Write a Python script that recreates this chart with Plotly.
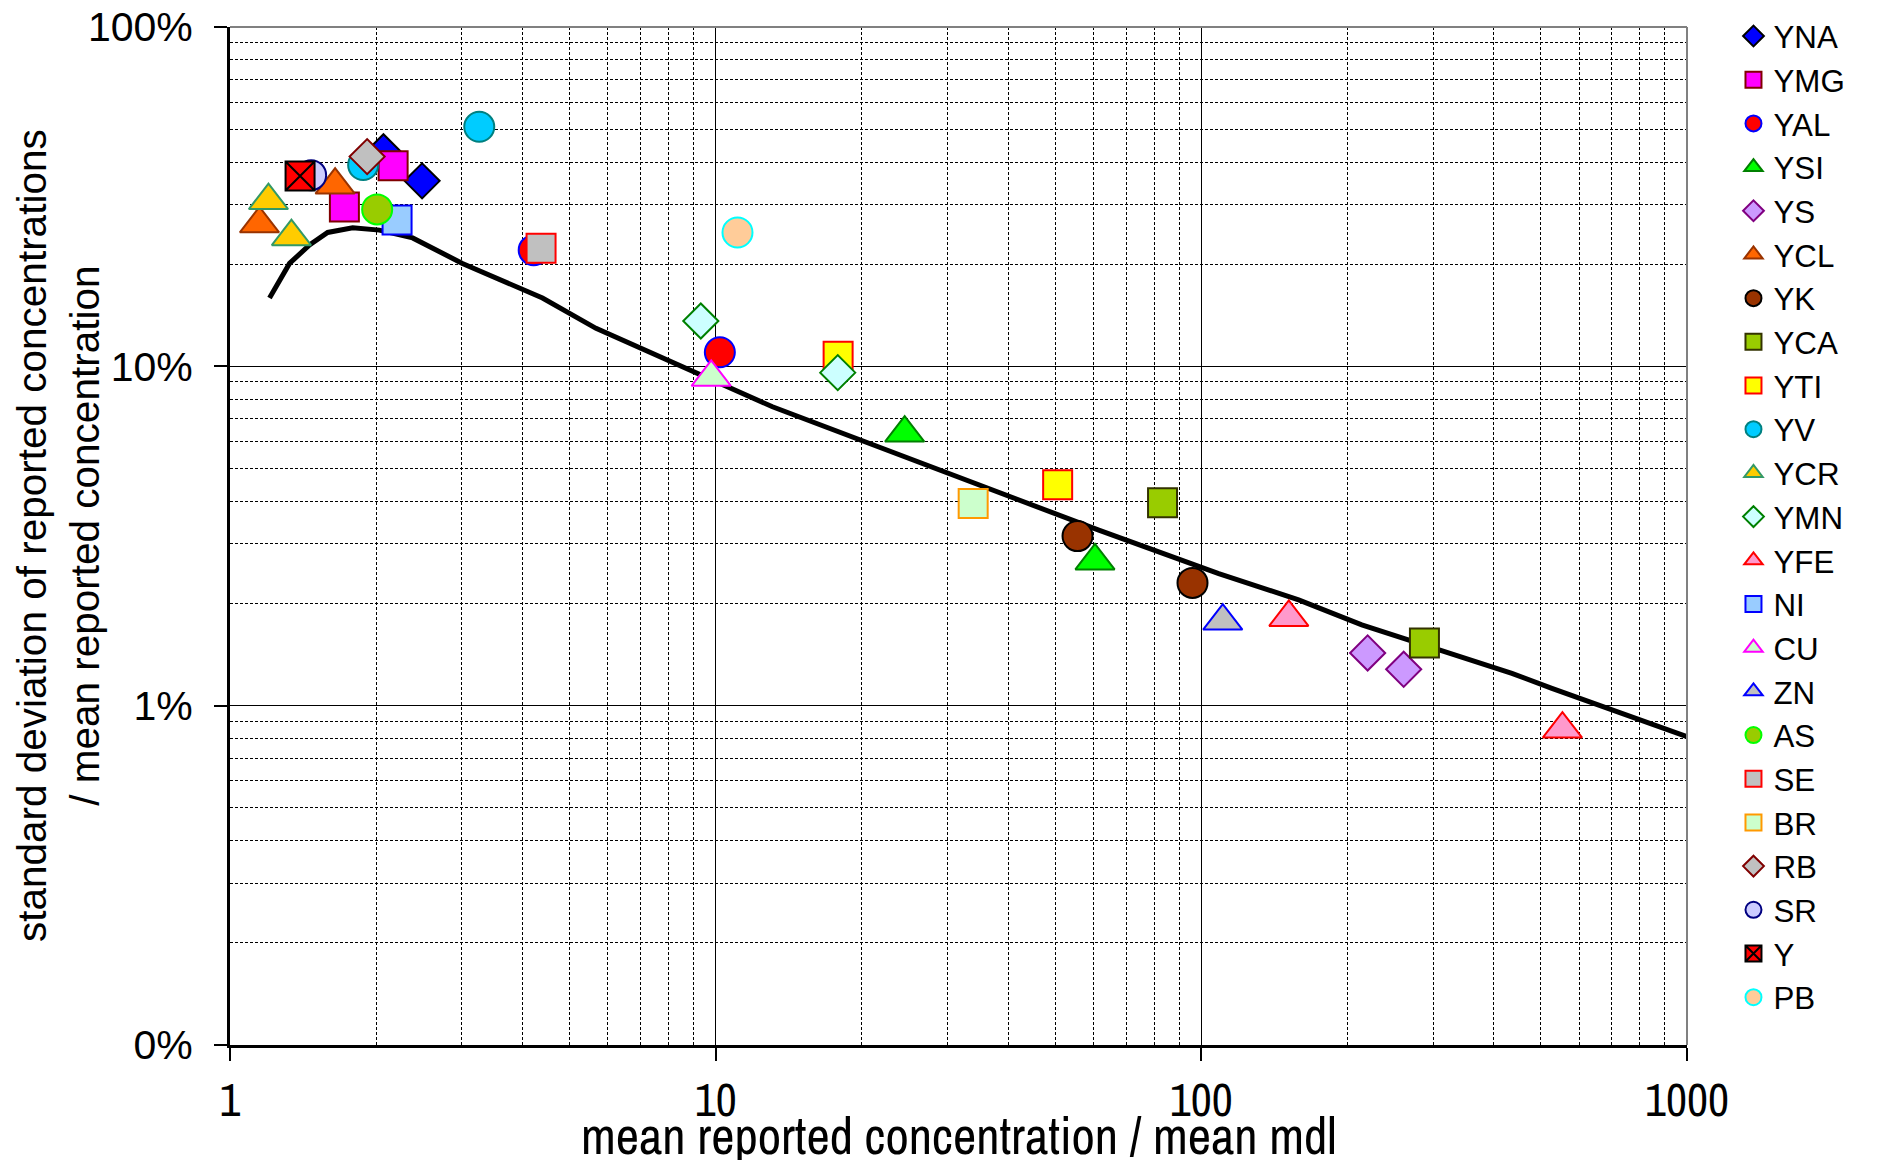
import plotly.graph_objects as go

# ---------------- data ----------------
curve_x = [1.206, 1.326, 1.458, 1.589, 1.789, 2.03, 2.377, 3.01, 4.40, 5.67, 13.09, 32.2, 61.5, 108.6, 158.6, 214, 436, 527, 1000]
curve_y = [15.9, 20.1, 22.8, 24.8, 25.6, 25.2, 23.9, 20.1, 15.9, 12.94, 7.60, 4.68, 3.29, 2.45, 2.05, 1.73, 1.245, 1.124, 0.81]

series_names = ["YNA", "YMG", "YAL", "YSI", "YS", "YCL", "YK", "YCA", "YTI", "YV", "YCR", "YMN",
                "YFE", "NI", "CU", "ZN", "AS", "SE", "BR", "RB", "SR", "Y", "PB"]

series_x = {
    "YNA": [2.07, 2.486], "YMG": [2.167, 1.72], "YAL": [4.22, 10.2], "YSI": [24.5, 60.4],
    "YS": [220, 261], "YCL": [1.646, 1.15], "YK": [55.6, 95.9], "YCA": [83.2, 288],
    "YTI": [17.87, 50.6], "YV": [1.88, 3.26], "YCR": [1.20, 1.338], "YMN": [9.32, 17.84],
    "YFE": [151.4, 554], "NI": [2.208], "CU": [9.79], "ZN": [110.7], "AS": [2.009],
    "SE": [4.37], "BR": [33.9], "RB": [1.916], "SR": [1.469], "Y": [1.394], "PB": [11.09],
}
series_y = {
    "YNA": [42.9, 35.2], "YMG": [39.0, 29.5], "YAL": [22.0, 11.0], "YSI": [6.36, 2.67],
    "YS": [1.43, 1.28], "YCL": [34.2, 26.3], "YK": [3.16, 2.30], "YCA": [3.96, 1.53],
    "YTI": [10.7, 4.48], "YV": [39.2, 50.8], "YCR": [30.8, 24.1], "YMN": [13.6, 9.58],
    "YFE": [1.82, 0.853], "NI": [27.0], "CU": [9.28], "ZN": [1.776], "AS": [29.0],
    "SE": [22.3], "BR": [3.94], "RB": [41.5], "SR": [36.6], "Y": [36.4], "PB": [24.8],
}

x_tickvals = [1, 10, 100, 1000]
x_ticktext = ["1", "10", "100", "1000"]
y_tickvals = [0.1, 1, 10, 100]
y_ticktext = ["0%", "1%", "10%", "100%"]

x_title = "mean reported concentration / mean mdl"
y_title = "standard deviation of reported concentrations<br>/ mean reported concentration"

# ---------------- styles ----------------
styles = {
    "YNA": ("diamond", "#0000FF", "#000000"),
    "YMG": ("square", "#FF00FF", "#800000"),
    "YAL": ("circle", "#FF0000", "#0000FF"),
    "YSI": ("triangle-up", "#00FF00", "#008000"),
    "YS": ("diamond", "#CC99FF", "#800080"),
    "YCL": ("triangle-up", "#FF6600", "#993300"),
    "YK": ("circle", "#993300", "#000000"),
    "YCA": ("square", "#99CC00", "#333300"),
    "YTI": ("square", "#FFFF00", "#FF0000"),
    "YV": ("circle", "#00CCFF", "#008080"),
    "YCR": ("triangle-up", "#FFCC00", "#339966"),
    "YMN": ("diamond", "#CCFFFF", "#008000"),
    "YFE": ("triangle-up", "#FF99CC", "#FF0000"),
    "NI": ("square", "#99CCFF", "#0000FF"),
    "CU": ("triangle-up", "#CCFFCC", "#FF00FF"),
    "ZN": ("triangle-up", "#C0C0C0", "#0000FF"),
    "AS": ("circle", "#99CC00", "#00FF00"),
    "SE": ("square", "#C0C0C0", "#FF0000"),
    "BR": ("square", "#CCFFCC", "#FF9900"),
    "RB": ("diamond", "#C0C0C0", "#800000"),
    "SR": ("circle", "#CCCCFF", "#000080"),
    "Y": ("square-x", "#FF0000", "#000000"),
    "PB": ("circle", "#FFCC99", "#00FFFF"),
}
sizes = {"diamond": 27, "square": 29, "circle": 30, "triangle-up": 34, "square-x": 29}

FONT = "Liberation Sans, Arial, sans-serif"
NARROW = "Archivo Narrow, Liberation Sans, Arial, sans-serif"

fig = go.Figure()

fig.add_trace(go.Scatter(x=curve_x, y=curve_y, mode="lines",
                         line=dict(color="black", width=5), showlegend=False, hoverinfo="skip"))

for name in series_names:
    sym, fill, edge = styles[name]
    fig.add_trace(go.Scatter(
        x=series_x[name], y=series_y[name], mode="markers", name=name,
        marker=dict(symbol=sym, size=sizes[sym], color=fill, line=dict(color=edge, width=2)),
    ))

grid_minor = dict(dtick="D1", showgrid=True, gridcolor="black", gridwidth=1, griddash="3px,2px", ticks="")

fig.update_xaxes(
    type="log", range=[0, 3], tickvals=x_tickvals, ticktext=x_ticktext,
    showline=True, linecolor="black", linewidth=3,
    ticks="outside", ticklen=13, tickwidth=1.5, tickcolor="black",
    showgrid=True, gridcolor="black", gridwidth=1,
    minor=grid_minor, zeroline=False,
    tickfont=dict(family=NARROW, size=46, color="black"),
    ticklabelstandoff=0, ticklabeloverflow="allow",
)
fig.update_yaxes(
    type="log", range=[-1, 2], tickvals=y_tickvals, ticktext=y_ticktext,
    showline=True, linecolor="black", linewidth=3,
    ticks="outside", ticklen=13, tickwidth=1.5, tickcolor="black",
    showgrid=True, gridcolor="black", gridwidth=1,
    minor=grid_minor, zeroline=False,
    tickfont=dict(family=FONT, size=41, color="black"),
    ticklabelstandoff=13, ticklabeloverflow="allow",
)

# axis titles
fig.add_annotation(text=x_title, xref="paper", yref="paper", x=0.5, y=-0.0885,
                   xanchor="center", yanchor="middle", showarrow=False,
                   font=dict(family=NARROW, size=51, color="black"))
fig.add_annotation(text=y_title, xref="paper", yref="paper", x=-0.118, y=0.5,
                   xanchor="center", yanchor="middle", showarrow=False, textangle=-90,
                   font=dict(family=FONT, size=40.5, color="black"))

# gray frame on top and right
fig.add_shape(type="line", xref="paper", yref="paper", x0=0, x1=1, y0=1, y1=1,
              line=dict(color="#808080", width=2))
fig.add_shape(type="line", xref="paper", yref="paper", x0=1, x1=1, y0=0, y1=1,
              line=dict(color="#808080", width=2))

fig.update_layout(
    width=1881, height=1160,
    margin=dict(l=230, r=194, t=27, b=115, autoexpand=False),
    paper_bgcolor="white", plot_bgcolor="white",
    font=dict(family=FONT, color="black"),
    legend=dict(x=1.0319, y=0.519, xanchor="left", yanchor="middle",
                font=dict(family=FONT, size=31.3, color="black"),
                bgcolor="rgba(0,0,0,0)", tracegroupgap=0, itemwidth=30),
)

fig.write_html("out.html", config={"displayModeBar": False},
               post_script="document.body.style.margin='0px';")
